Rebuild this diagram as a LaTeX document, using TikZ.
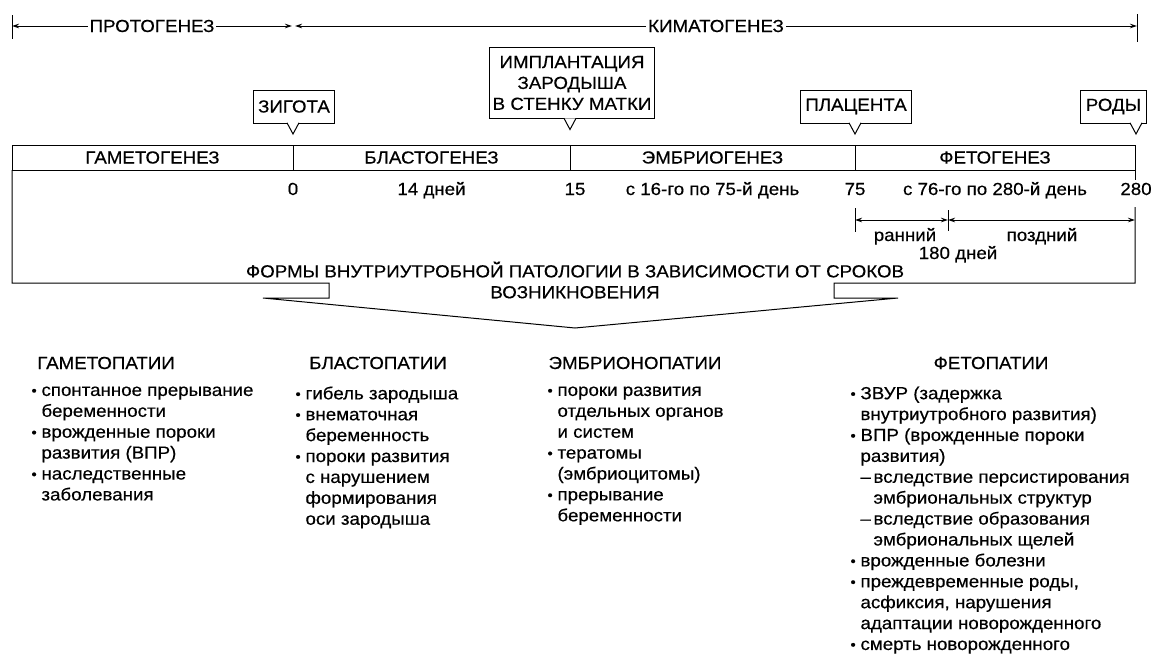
\documentclass[tikz,border=0pt]{standalone}
\usepackage{fontspec}
\setmainfont{Liberation Sans}[FakeStretch=1.07,FakeBold=0.4]
\usetikzlibrary{positioning,arrows.meta,calc}
\newcommand{\bul}{\makebox[10pt][l]{\raisebox{0.5pt}{\fontsize{14}{14}\selectfont •}}}
\newcommand{\ind}{\hspace*{10pt}}
\newcommand{\dsh}{\makebox[13pt][l]{–}}

\begin{document}
\begin{tikzpicture}[x=1pt,y=-1pt,>={Stealth[length=7pt,width=4.5pt]},line width=1pt,
  font=\fontsize{17.5}{20.9}\selectfont,
  phase/.style={draw,minimum height=25pt,inner sep=0pt,outer sep=0pt},
  event/.style={draw,fill=white,minimum height=33pt,inner xsep=5pt,align=center},
  day/.style={anchor=base,inner sep=2pt},
  items/.style={anchor=north west,align=left,inner sep=0pt}]
  \useasboundingbox (0,0) rectangle (1155,653);

  % protogenesis / kymatogenesis
  \coordinate (p0) at (12,26);
  \coordinate (p1) at (292,26);
  \coordinate (k0) at (295,26);
  \coordinate (k1) at (1137,26);
  \draw[<->] (p0) -- node[fill=white,inner xsep=2pt]{ПРОТОГЕНЕЗ} (p1);
  \draw[<->] (k0) -- node[fill=white,inner xsep=2pt]{КИМАТОГЕНЕЗ} (k1);
  \draw (p0) ++(0,-11) -- ++(0,24);
  \draw (k1) ++(0,-12) -- ++(0,28);

  % periods bar
  \node[phase,minimum width=281pt] (gam) at (152.5,157.5) {ГАМЕТОГЕНЕЗ};
  \node[phase,minimum width=277pt,right=0pt of gam] (bla) {БЛАСТОГЕНЕЗ};
  \node[phase,minimum width=285pt,right=0pt of bla] (emb) {ЭМБРИОГЕНЕЗ};
  \node[phase,minimum width=280pt,right=0pt of emb] (fet) {ФЕТОГЕНЕЗ};

  % events with pointers
  \node[event] (zig) at (294,106.5) {ЗИГОТА};
  \node[event,minimum height=71pt,inner xsep=3pt] (imp) at (572,83) {ИМПЛАНТАЦИЯ\\ЗАРОДЫША\\В СТЕНКУ МАТКИ};
  \node[event] (pla) at (856,106.5) {ПЛАЦЕНТА};
  \node[event] (rod) at (1113.5,106.5) {РОДЫ};
  \foreach \n/\x in {zig/293,imp/570,pla/855,rod/1136}
    \draw[fill=white] ($(\n.south -| \x,0)+(-6,-0.7)$) -- ($(\n.south -| \x,0)+(0,10.5)$) -- ($(\n.south -| \x,0)+(6,-0.7)$);

  % days
  \node[day] (d0) at (293,195) {0};
  \node[day] (d14) at (bla.south |- d0.base) {14 дней};
  \node[day] (d15) at (575,195) {15};
  \node[day] (d1675) at (emb.south |- d0.base) {с 16-го по 75-й день};
  \node[day] (d75) at (855,195) {75};
  \node[day] (d76280) at (fet.south |- d0.base) {с 76-го по 280-й день};
  \node[day] (d280) at (1136,195) {280};
  \draw (fet.south east) -- (fet.south east |- d280.north);

  % early / late
  \coordinate (e0) at (855,220);
  \coordinate (e1) at (948,220);
  \coordinate (e2) at (1135,220);
  \draw (e0) ++(0,-12) -- ++(0,24);
  \draw (e1) ++(0,-10) -- ++(0,21);
  \draw[<->] (e0) -- (e1);
  \draw[<->] (e1) -- (e2);
  \node[day] (ear) at (905,241) {ранний};
  \node[day] (lat) at (1042,241) {поздний};
  \node[day] (d180) at (958,259) {180 дней};

  % forms of pathology
  \node[align=center,inner sep=0pt] (forms) at (575,280) {ФОРМЫ ВНУТРИУТРОБНОЙ ПАТОЛОГИИ В ЗАВИСИМОСТИ ОТ СРОКОВ\\ВОЗНИКНОВЕНИЯ};
  \coordinate (lc) at (12,283);
  \coordinate (ln) at (329,283);
  \coordinate (lb) at (329,298);
  \coordinate (lv) at (263,298);
  \coordinate (vb) at (575,328);
  \coordinate (rv) at (898,298);
  \coordinate (rb) at (834,298);
  \coordinate (rn) at (834,283);
  \coordinate (rc) at (1135,283);
  \coordinate (rt) at (1135,207);
  \draw (gam.south west) -- (lc) -- (ln) -- (lb) -- (lv) -- (vb) -- (rv) -- (rb) -- (rn) -- (rc) -- (rt);

  % pathologies
  \node (gph) at (106,363) {ГАМЕТОПАТИИ};
  \node (bph) at (378,363) {БЛАСТОПАТИИ};
  \node (eph) at (635,363) {ЭМБРИОНОПАТИИ};
  \node (fph) at (991,363) {ФЕТОПАТИИ};
  \node[items] (gpl) at (31,386) {\bul спонтанное прерывание\\ \ind беременности\\ \bul врожденные пороки\\ \ind развития (ВПР)\\ \bul наследственные\\ \ind заболевания};
  \node[items] (bpl) at (295,386) {\bul гибель зародыша\\ \bul внематочная\\ \ind беременность\\ \bul пороки развития\\ \ind с нарушением\\ \ind формирования\\ \ind оси зародыша};
  \node[items] (epl) at (547,386) {\bul пороки развития\\ \ind отдельных органов\\ \ind и систем\\ \bul тератомы\\ \ind (эмбриоцитомы)\\ \bul прерывание\\ \ind беременности};
  \node[items] (fpl) at (850,386) {\bul ЗВУР (задержка\\ \ind внутриутробного развития)\\ \bul ВПР (врожденные пороки\\ \ind развития)\\ \ind\dsh вследствие персистирования\\ \ind\hspace*{13pt}эмбриональных структур\\ \ind\dsh вследствие образования\\ \ind\hspace*{13pt}эмбриональных щелей\\ \bul врожденные болезни\\ \bul преждевременные роды,\\ \ind асфиксия, нарушения\\ \ind адаптации новорожденного\\ \bul смерть новорожденного};
\end{tikzpicture}
\end{document}
